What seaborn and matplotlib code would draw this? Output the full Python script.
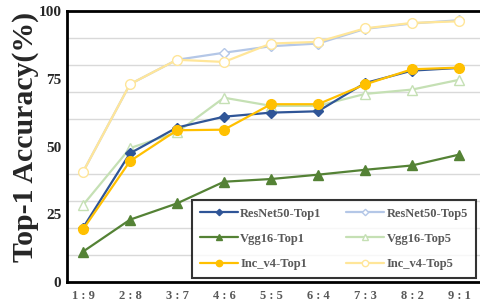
import numpy as np
import pandas as pd
import matplotlib
matplotlib.use('Agg')
import matplotlib.pyplot as plt
import seaborn as sns

ratios = ['1:9', '2:8', '3:7', '4:6', '5:5', '6:4', '7:3', '8:2', '9:1']
resnet_top1 = [20.0, 47.5, 57.0, 61.0, 62.5, 63.0, 73.4, 78.0, 79.0]
resnet_top5 = [40.6, 73.0, 82.0, 84.6, 87.0, 88.0, 93.4, 95.4, 96.6]
vgg_top1 = [11.2, 23.0, 29.0, 37.0, 38.0, 39.6, 41.4, 43.0, 47.0]
vgg_top5 = [28.4, 49.4, 55.2, 68.0, 65.0, 65.0, 69.4, 71.0, 74.6]
inc_top1 = [19.4, 44.6, 56.0, 56.2, 65.6, 65.6, 72.9, 78.5, 79.1]
inc_top5 = [40.6, 73.0, 82.0, 81.2, 88.0, 88.6, 93.6, 95.6, 96.2]

sns.set_style('white')
plt.rcParams['font.family'] = ['Liberation Serif', 'DejaVu Serif']
plt.rcParams['font.weight'] = 'bold'

fig = plt.figure(figsize=(4.81, 3.05), dpi=100)
ax = fig.add_axes([67 / 481, 23 / 305, (491 - 67) / 481, 271 / 305])

x = np.arange(len(ratios))
series = [
    ('ResNet50-Top1', resnet_top1, '#2F5597', 'D', 5, True),
    ('Vgg16-Top1', vgg_top1, '#548235', '^', 6.5, True),
    ('Inc_v4-Top1', inc_top1, '#FFC000', 'o', 7, True),
    ('ResNet50-Top5', resnet_top5, '#B4C7E7', 'D', 5, False),
    ('Vgg16-Top5', vgg_top5, '#C5E0B4', '^', 6.5, False),
    ('Inc_v4-Top5', inc_top5, '#FFE699', 'o', 7, False),
]
zorders = {'ResNet50-Top1': 5, 'Vgg16-Top1': 5, 'Inc_v4-Top1': 6,
           'ResNet50-Top5': 3, 'Vgg16-Top5': 3, 'Inc_v4-Top5': 4}

for name, vals, col, mk, ms, filled in series:
    df = pd.DataFrame({'x': x, 'y': vals})
    sns.lineplot(data=df, x='x', y='y', ax=ax, color=col, marker=mk,
                 markersize=ms, linewidth=1.6, label=name, sort=False,
                 markerfacecolor=col if filled else 'white',
                 markeredgecolor=col, markeredgewidth=1,
                 zorder=zorders[name])

ax.set_xlim(-16 / 47, (491 - 83) / 47)
ax.set_ylim(0, 100)
ax.set_yticks([0, 25, 50, 75, 100])
ax.set_yticks(np.arange(10, 100, 10), minor=True)
ax.yaxis.grid(True, which='minor', color='#d9d9d9', linewidth=1)
ax.set_axisbelow(True)
ax.tick_params(axis='y', which='both', length=0, labelsize=11, pad=4)
ax.tick_params(axis='x', length=0, labelsize=9, colors='#595959', pad=6)
for lab in ax.get_yticklabels():
    lab.set_fontweight('bold')
ax.set_xticks(x)
ax.set_xticklabels([r.replace(':', ' : ') for r in ratios], fontweight='bold')
ax.set_xlabel('')
ax.set_ylabel('Top-1 Accuracy(%)', fontsize=21.5, fontweight='bold')
ax.yaxis.set_label_coords(-0.066, 0.535)

for side in ['left', 'bottom', 'top']:
    ax.spines[side].set_color('black')
    ax.spines[side].set_linewidth(2)
ax.spines['right'].set_visible(False)

leg = ax.legend(ncol=2, loc='lower right',
                bbox_to_anchor=(476 / 481, 27 / 305),
                bbox_transform=fig.transFigure, borderaxespad=0,
                frameon=True, fancybox=False, edgecolor='black',
                prop={'family': 'Liberation Serif', 'weight': 'bold', 'size': 9},
                handlelength=3.0, handletextpad=0.2, labelspacing=1.05,
                columnspacing=2.0, borderpad=0.65, markerscale=0.65)
leg.get_frame().set_linewidth(1.5)
leg.set_zorder(10)
for t in leg.get_texts():
    t.set_color('#595959')

fig.savefig('out.png', dpi=100)
